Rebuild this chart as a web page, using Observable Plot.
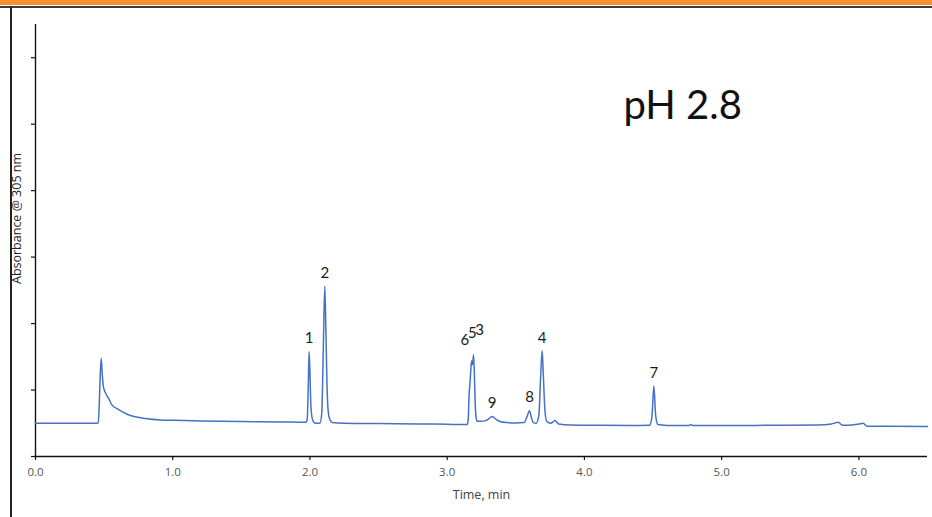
<!DOCTYPE html>
<html>
<head>
<meta charset="utf-8">
<script src="https://cdn.jsdelivr.net/npm/d3@7"></script>
<script src="https://cdn.jsdelivr.net/npm/@observablehq/plot@0.6"></script>
<style>
  html, body { margin: 0; padding: 0; background: #fff; }
  #slide { position: relative; width: 932px; height: 517px; overflow: hidden; background: #fff; }
  #slide .band { position: absolute; left: 0; top: 0; width: 932px; height: 5px; background: #f7912f; }
  #slide .rule { position: absolute; left: 0; top: 6px; width: 932px; height: 1.5px; background: #3c3c3c; }
  #slide .edge { position: absolute; left: 10px; top: 6px; width: 1.6px; height: 511px; background: #222; }
  #chart { position: absolute; left: 0; top: 0; }
</style>
</head>
<body>
<div id="slide">
  <div class="band"></div>
  <div class="rule"></div>
  <div class="edge"></div>
  <div id="chart"></div>
</div>
<script>
// Chromatogram trace: retention time (min) and absorbance (AU) at 305 nm
const time = [
  0.000, 0.450, 0.457, 0.465, 0.472, 0.479, 0.486, 0.493, 0.498, 0.510,
  0.522, 0.534, 0.545, 0.560, 0.595, 0.640, 0.692, 0.750, 0.814, 0.910,
  1.000, 1.200, 1.500, 1.800, 1.970, 1.980, 1.987, 1.994, 2.000, 2.006,
  2.014, 2.026, 2.045, 2.072, 2.086, 2.097, 2.108, 2.116, 2.124, 2.132,
  2.144, 2.162, 2.250, 2.500, 2.800, 3.000, 3.100, 3.145, 3.153, 3.160,
  3.165, 3.172, 3.178, 3.184, 3.192, 3.198, 3.204, 3.211, 3.218, 3.228,
  3.245, 3.280, 3.305, 3.328, 3.350, 3.380, 3.430, 3.500, 3.560, 3.582,
  3.600, 3.614, 3.628, 3.648, 3.668, 3.681, 3.692, 3.701, 3.712, 3.725,
  3.755, 3.785, 3.812, 3.900, 4.100, 4.400, 4.475, 4.492, 4.506, 4.519,
  4.536, 4.600, 4.760, 4.775, 4.790, 5.000, 5.400, 5.700, 5.800, 5.850,
  5.880, 5.950, 6.000, 6.030, 6.060, 6.200, 6.500
];
const absorbance = [
  0.500, 0.500, 0.505, 0.800, 1.250, 1.480, 1.250, 1.080, 1.020, 0.960,
  0.910, 0.870, 0.820, 0.770, 0.720, 0.665, 0.617, 0.590, 0.567, 0.550,
  0.545, 0.535, 0.525, 0.520, 0.515, 0.560, 1.000, 1.580, 1.250, 0.800,
  0.600, 0.520, 0.500, 0.500, 0.650, 1.600, 2.560, 1.900, 1.100, 0.700,
  0.560, 0.510, 0.500, 0.495, 0.490, 0.485, 0.480, 0.480, 0.550, 0.950,
  1.070, 1.300, 1.440, 1.380, 1.530, 1.250, 0.800, 0.580, 0.530, 0.530,
  0.530, 0.540, 0.570, 0.600, 0.570, 0.530, 0.510, 0.505, 0.510, 0.600,
  0.690, 0.580, 0.510, 0.500, 0.620, 1.200, 1.590, 1.200, 0.700, 0.530,
  0.500, 0.540, 0.490, 0.475, 0.470, 0.468, 0.470, 0.600, 1.060, 0.620,
  0.480, 0.468, 0.466, 0.480, 0.466, 0.466, 0.470, 0.475, 0.490, 0.516,
  0.470, 0.475, 0.490, 0.500, 0.455, 0.455, 0.450
];

// Identified peaks: number, apex time and apex absorbance
const peakNumber = ["1", "2", "6", "5", "3", "9", "8", "4", "7"];
const peakTime   = [1.994, 2.108, 3.165, 3.184, 3.192, 3.328, 3.600, 3.692, 4.506];
const peakHeight = [1.580, 2.560, 1.070, 1.440, 1.530, 0.600, 0.690, 1.590, 1.060];

const xTicks = [0, 1, 2, 3, 4, 5, 6];
const yTicks = [0, 1, 2, 3, 4, 5, 6];

const trace = time.map((t, i) => ({time: t, absorbance: absorbance[i]}));
const peaks = peakNumber.map((n, i) => ({peak: n, time: peakTime[i], absorbance: peakHeight[i]}));
const single = peaks.filter(d => !["6", "5", "3"].includes(d.peak));
const byPeak = n => peaks.filter(d => d.peak === n);

const titleFont = "Lato, 'Open Sans', sans-serif";
const axisFont = "'Open Sans', 'DejaVu Sans', sans-serif";
const labelStyle = {x: "time", y: "absorbance", text: "peak", fontSize: 15, fill: "#1a1a1a", fontFamily: titleFont};

const chart = Plot.plot({
  width: 932,
  height: 517,
  marginLeft: 35,
  marginRight: 5,
  marginTop: 24,
  marginBottom: 61,
  style: {fontFamily: axisFont, background: "transparent", overflow: "visible"},
  x: {domain: [0, 6.5]},
  y: {domain: [0, 6.5]},
  marks: [
    Plot.axisY({ticks: yTicks, tickSize: 4, tickFormat: () => "", label: null, stroke: "#111", strokeWidth: 1.2}),
    Plot.axisX({ticks: xTicks, tickSize: 4, tickPadding: 7, tickFormat: d => d.toFixed(1), label: null,
      fontSize: 11.5, fill: "#555", stroke: "#111", strokeWidth: 1.2, fontFamily: axisFont}),
    Plot.ruleX([0], {stroke: "#111", strokeWidth: 1.4}),
    Plot.ruleY([0], {stroke: "#111", strokeWidth: 1.4}),
    Plot.line(trace, {x: "time", y: "absorbance", stroke: "#4472c4", strokeWidth: 1.5, curve: "monotone-x"}),
    Plot.text(single, {...labelStyle, dy: -13}),
    Plot.text(byPeak("6"), {...labelStyle, dx: -5, dy: -45}),
    Plot.text(byPeak("5"), {...labelStyle, dx: 0, dy: -28}),
    Plot.text(byPeak("3"), {...labelStyle, dx: 6, dy: -25}),
    Plot.text(["Time, min"], {frameAnchor: "bottom", text: d => d, dy: 42, fontSize: 12.5, fill: "#404040",
      fontFamily: axisFont}),
    Plot.text(["Absorbance @ 305 nm"], {frameAnchor: "left", text: d => d, textAnchor: "middle", rotate: -90,
      dx: -19, dy: -22, fontSize: 12.5, fill: "#262626", fontFamily: axisFont}),
    Plot.text(["pH 2.8"], {frameAnchor: "top-left", text: d => d, textAnchor: "start", dx: 588, dy: 66,
      fontSize: 40, fill: "#111", fontFamily: titleFont})
  ]
});

document.getElementById("chart").appendChild(chart);
</script>
</body>
</html>
